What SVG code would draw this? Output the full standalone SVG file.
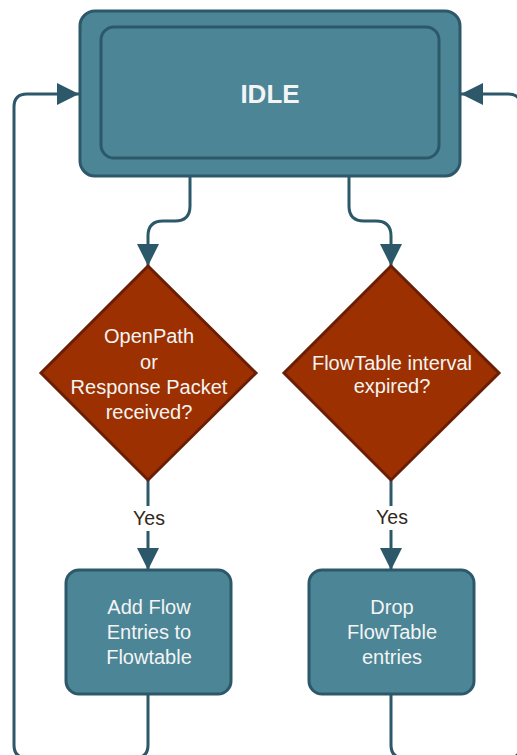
<svg xmlns="http://www.w3.org/2000/svg" width="517" height="755" viewBox="0 0 517 755">
<defs>
<style>
.box{fill:#4b8596;stroke:#2c5869;stroke-width:3}
.dia{fill:#9c3000;stroke:#6b1e06;stroke-width:3}
.con{fill:none;stroke:#2c5869;stroke-width:3}
.t{font-family:"Liberation Sans",Arial,sans-serif;font-size:20px;fill:#f4f4f4;text-anchor:middle}
.big{font-size:26px;font-weight:bold}
.lbl{font-family:"Liberation Sans",Arial,sans-serif;font-size:19.5px;fill:#33261a;text-anchor:middle}
</style>
<marker id="ah" viewBox="0 0 22 22" refX="22" refY="11" markerWidth="22" markerHeight="22" markerUnits="userSpaceOnUse" orient="auto">
<path d="M0 0 L22 11 L0 22 Z" fill="#2c5869"/>
</marker>
</defs>
<rect width="517" height="755" fill="#ffffff"/>
<g id="connectors">
<path class="con" d="M190 176 V206 Q190 221 175 221 H163 Q148 221 148 236 V266" marker-end="url(#ah)"/>
<path class="con" d="M349 176 V206 Q349 221 364 221 H376 Q391 221 391 236 V266" marker-end="url(#ah)"/>
<path class="con" d="M148 480 V506"/>
<path class="con" d="M148 531 V570" marker-end="url(#ah)"/>
<path class="con" d="M391 480 V506"/>
<path class="con" d="M391 530 V570" marker-end="url(#ah)"/>
<path class="con" d="M148 694 V745 Q148 758 135 758 H27 Q14 758 14 745 V107 Q14 94 27 94 H79" marker-end="url(#ah)"/>
<path class="con" d="M391 694 V745 Q391 758 404 758 H508 Q521 758 521 745 V107 Q521 94 508 94 H461" marker-end="url(#ah)"/>
<text class="lbl" x="149" y="525">Yes</text>
<text class="lbl" x="392" y="524">Yes</text>
</g>
<g id="idle">
<rect class="box" x="80" y="11" width="380" height="165" rx="15"/>
<rect class="box" x="101" y="27" width="338" height="131" rx="13"/>
<text class="t big" x="270" y="103">IDLE</text>
</g>
<g id="decision1">
<polygon class="dia" points="148,266 256,373 148,480 41,373"/>
<text class="t"><tspan x="149" y="343">OpenPath</tspan><tspan x="149" y="369">or</tspan><tspan x="149" y="394">Response Packet</tspan><tspan x="149" y="419">received?</tspan></text>
</g>
<g id="decision2">
<polygon class="dia" points="391,266 499,373 391,480 284,373"/>
<text class="t"><tspan x="392" y="370">FlowTable interval</tspan><tspan x="392" y="393">expired?</tspan></text>
</g>
<g id="addflow">
<rect class="box" x="66" y="570" width="165" height="124" rx="13"/>
<text class="t"><tspan x="149" y="614">Add Flow</tspan><tspan x="149" y="639">Entries to</tspan><tspan x="149" y="664">Flowtable</tspan></text>
</g>
<g id="dropflow">
<rect class="box" x="309" y="570" width="165" height="124" rx="13"/>
<text class="t"><tspan x="392" y="614">Drop</tspan><tspan x="392" y="639">FlowTable</tspan><tspan x="392" y="664">entries</tspan></text>
</g>
</svg>
